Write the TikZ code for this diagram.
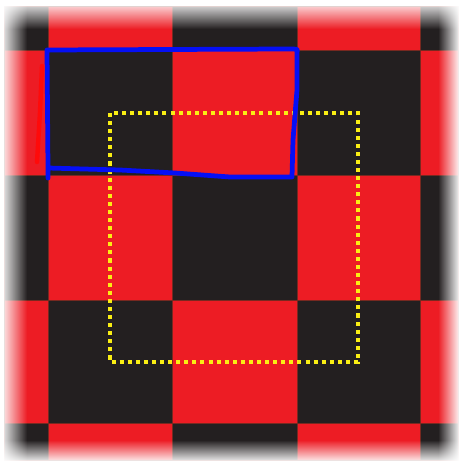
\documentclass[tikz,border=0pt]{standalone}
\usepackage{tikz}
\usetikzlibrary{fadings}
\definecolor{boardred}{RGB}{237,28,36}
\definecolor{boardblack}{RGB}{35,31,32}
\definecolor{seam}{RGB}{120,40,32}
\definecolor{penblue}{RGB}{5,15,245}
\definecolor{penred}{RGB}{255,10,10}
\definecolor{dotyellow}{RGB}{250,238,20}

\begin{document}
\begin{tikzpicture}[
  x=0.02cm, y=-0.02cm,
  cellbox/.style={draw=seam, line width=0.3pt},
  edgefade/.style={fill=white, draw=none},
  bluepen/.style={penblue, line width=2.7pt, line join=round, line cap=round},
  redpen/.style={penred, line width=2.5pt, line cap=round},
  dotframe/.style={dotyellow, line width=1.9pt, dash pattern=on 2.3pt off 2.3pt}]

  \useasboundingbox (0,0) rectangle (460,463);
  \fill[white] (0,0) rectangle (460,463);

  % checker board
  \foreach \xa/\xb [count=\i] in {4/48, 48/172, 172/297, 297/420, 420/458} {
    \foreach \ya/\yb [count=\j] in {6/50, 50/175, 175/300, 300/423, 423/460} {
      \pgfmathtruncatemacro{\cellpar}{mod(\i+\j,2)}
      \ifnum\cellpar=0
        \fill[boardblack, cellbox] (\xa,\ya) rectangle (\xb,\yb);
      \else
        \fill[boardred, cellbox] (\xa,\ya) rectangle (\xb,\yb);
      \fi
    }
  }

  % soft edges
  \fill[edgefade, path fading=east]  (0,0) rectangle (27,463);
  \fill[edgefade, path fading=west]  (438,0) rectangle (460,463);
  \fill[edgefade, path fading=south] (0,0) rectangle (460,29);
  \fill[edgefade, path fading=north] (0,440) rectangle (460,463);

  % yellow frame
  \coordinate (ytl) at (110,113);
  \coordinate (ybr) at (358,362);
  \draw[dotframe] (ytl) rectangle (ybr);

  % hand drawn marks
  \coordinate (btl) at (47,50);
  \coordinate (btr) at (297,52);
  \coordinate (bbr) at (292,177);
  \coordinate (bbl) at (48,168);
  \draw[bluepen] (48,178) -- (bbl) -- (btl) -- (288,49)
    .. controls (298,49) .. (btr) -- (297,90) -- (293,140) -- (bbr)
    -- (230,177) -- (175,173) -- (120,170) -- (bbl);
  \coordinate (rtop) at (42,66);
  \coordinate (rbot) at (37,162);
  \draw[redpen] (rtop) -- (40,112) -- (rbot);
\end{tikzpicture}
\end{document}
